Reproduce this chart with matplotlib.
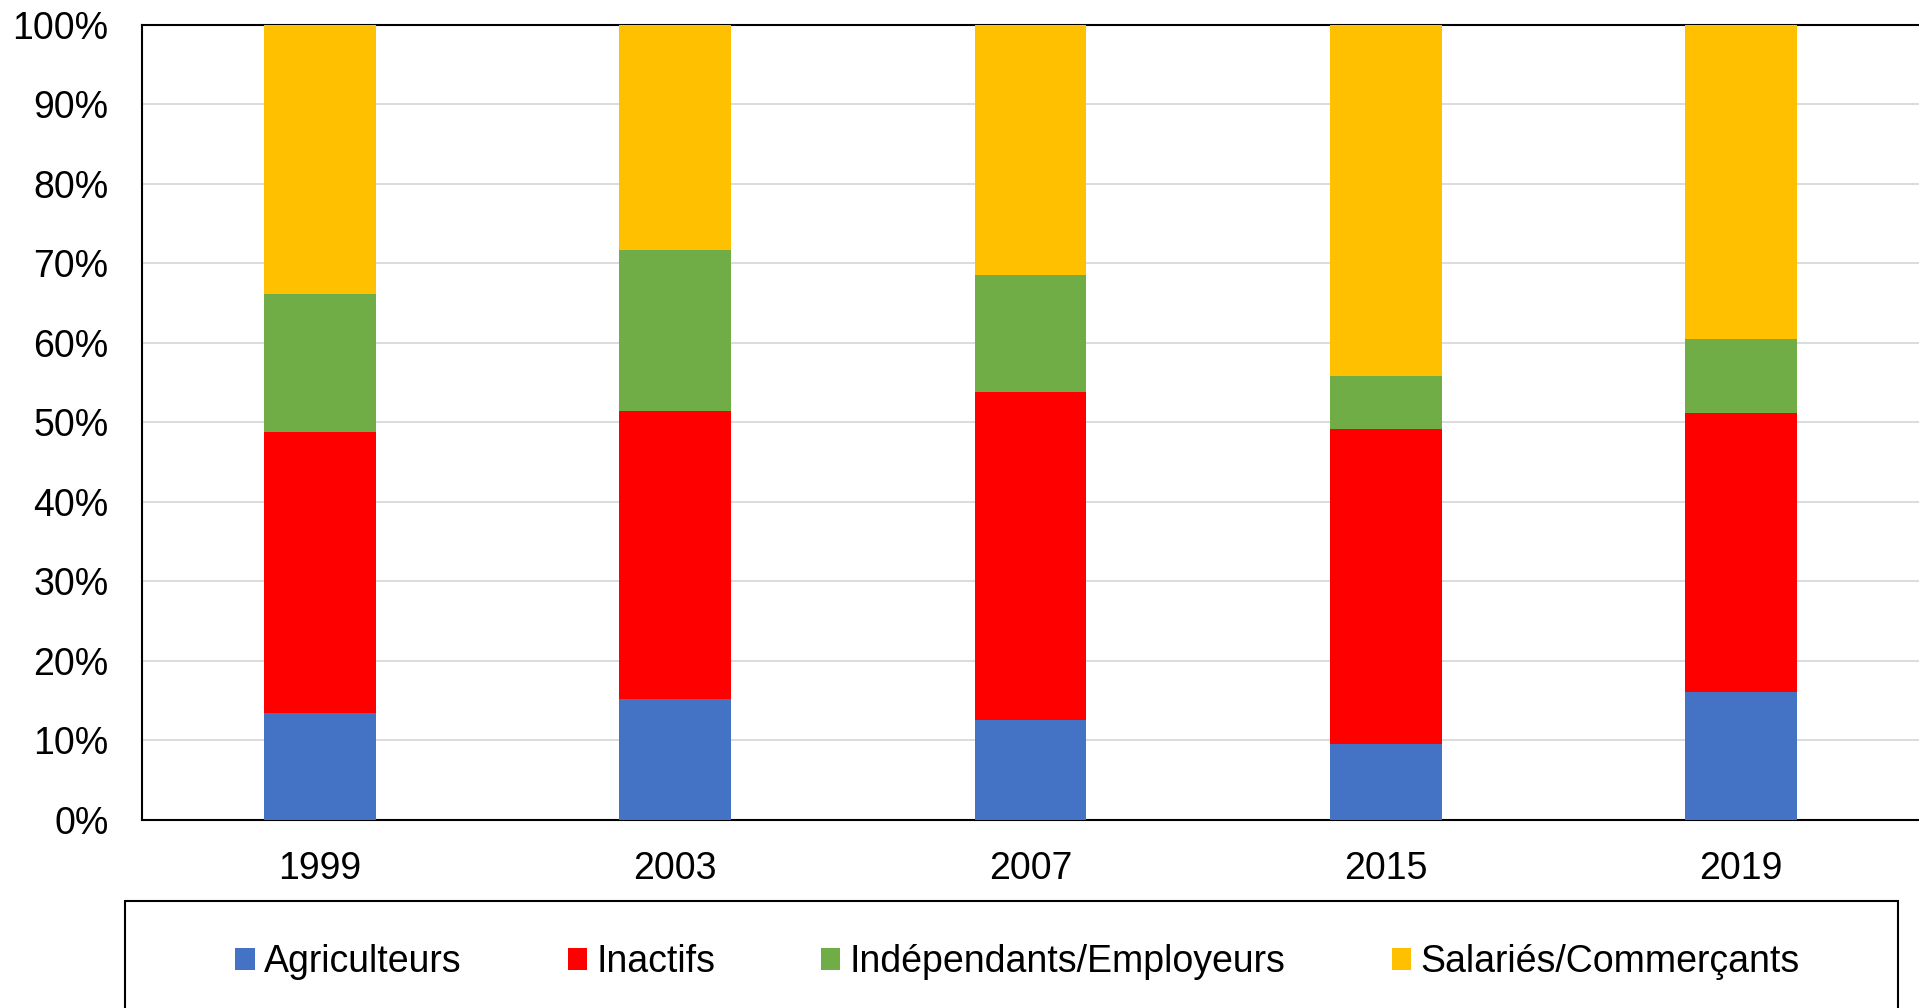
import numpy as np
import matplotlib
matplotlib.use("Agg")
import matplotlib.pyplot as plt
from matplotlib.patches import Rectangle
from matplotlib.ticker import PercentFormatter

plt.rcParams['font.family'] = ['Liberation Sans', 'DejaVu Sans']

# données (en %)
annees = ['1999', '2003', '2007', '2015', '2019']
agriculteurs = [13.4, 15.2, 12.5, 9.5, 16.0]
inactifs = [35.4, 36.2, 41.3, 39.6, 35.2]
independants = [17.4, 20.3, 14.7, 6.7, 9.3]
salaries = [33.8, 28.3, 31.5, 44.2, 39.5]

series = [
    ('Agriculteurs', agriculteurs, '#4472C4'),
    ('Inactifs', inactifs, '#FF0000'),
    ('Indépendants/Employeurs', independants, '#70AD47'),
    ('Salariés/Commerçants', salaries, '#FFC000'),
]

fig = plt.figure(figsize=(19.19, 10.08), dpi=100)
ax = fig.add_axes([142 / 1919, 1 - 819.5 / 1008, 1 - 142 / 1919, (819.5 - 25) / 1008])

x = np.arange(len(annees))
bas = np.zeros(len(annees))
for nom, vals, coul in series:
    ax.bar(x, vals, width=0.315, bottom=bas, color=coul, label=nom, zorder=3)
    bas += np.array(vals)

ax.set_xlim(-0.5, 4.5)
ax.set_ylim(0, 100)
ax.set_yticks(np.arange(0, 101, 10))
ax.yaxis.set_major_formatter(PercentFormatter(decimals=0))
ax.set_xticks(x)
ax.set_xticklabels(annees)
ax.grid(axis='y', color='#d9d9d9', linewidth=1.3, zorder=0)
ax.tick_params(axis='y', length=0, pad=24, labelsize=27)
ax.tick_params(axis='x', length=0, pad=23, labelsize=27)
for s in ['left', 'bottom', 'top']:
    ax.spines[s].set_linewidth(1.5)
    ax.spines[s].set_color('black')
ax.spines['right'].set_visible(False)

# légende avec cadre qui déborde en bas
fig.legend(loc='center', bbox_to_anchor=(1017.5 / 1919, 1 - 962 / 1008), ncol=4,
           frameon=False, fontsize=27, handlelength=0.51, handleheight=0.51,
           handletextpad=0.25, columnspacing=2.83)
fig.patches.append(Rectangle((125 / 1919, -0.05), (1898 - 125) / 1919, 0.05 + 1 - 901 / 1008,
                             transform=fig.transFigure, fill=False, edgecolor='black',
                             linewidth=1.5, clip_on=False))

fig.savefig('out.png', dpi=100)
